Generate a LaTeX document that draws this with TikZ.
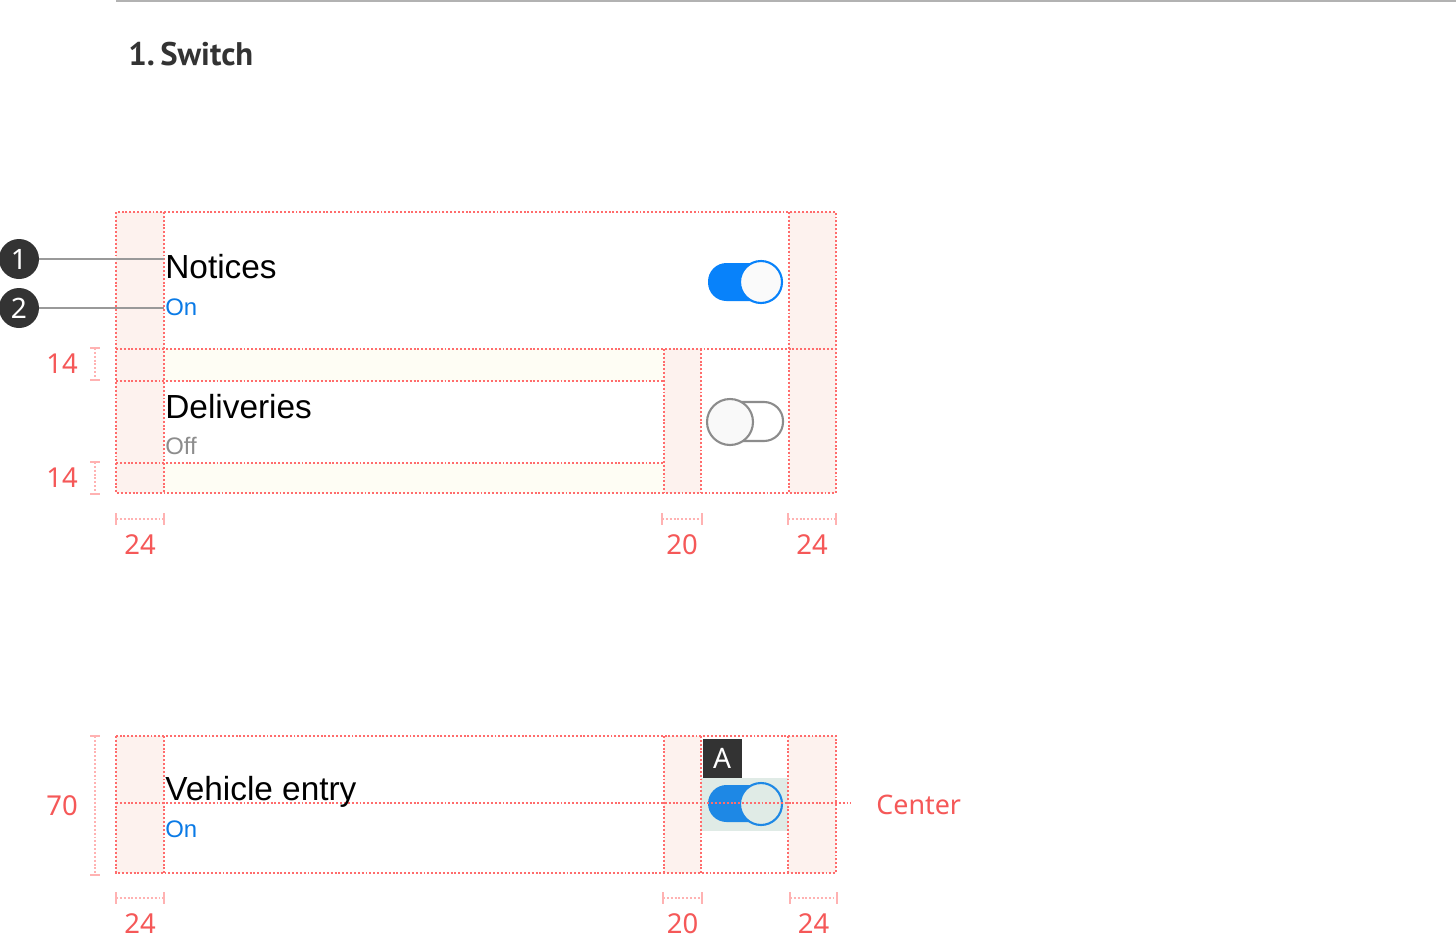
\documentclass[tikz,border=0pt]{standalone}
\usepackage{fontspec}
\setmainfont{Noto Sans}
\newfontfamily\uifont{Liberation Sans}
\newfontfamily\headfont{PT Sans}
\usepackage{tikz}
\usetikzlibrary{
	calc,
	positioning
}
\definecolor{GuideRed}{RGB}{255,108,108}
\definecolor{MarkRed}{RGB}{245,88,88}
\definecolor{TickRed}{RGB}{255,178,178}
\definecolor{PadPink}{RGB}{253,242,238}
\definecolor{PadCream}{RGB}{254,253,244}
\definecolor{OnBlue}{RGB}{10,122,230}
\definecolor{TrackBlue}{RGB}{8,130,250}
\definecolor{FocusBlue}{RGB}{30,136,229}
\definecolor{FocusGreen}{RGB}{224,235,230}
\definecolor{DarkGray}{RGB}{51,51,51}
\definecolor{OffGray}{RGB}{140,140,140}
\tikzset{
	guide/.style={GuideRed, line width=0.8pt, dash pattern=on 1.1pt off 1.1pt},
	dimbar/.style={TickRed, line width=0.8pt, dash pattern=on 1.1pt off 1.1pt},
	dimtick/.style={TickRed, line width=0.9pt},
	dimlabel/.style={MarkRed, inner sep=0, font=\fontsize{15.6}{18}\selectfont},
	itemtitle/.style={anchor=base west, inner sep=0, font=\uifont\fontsize{19}{22}\selectfont},
	itemstate/.style={anchor=base west, inner sep=0, font=\uifont\fontsize{13.6}{16}\selectfont},
	callout/.style={circle, fill=DarkGray, text=white, minimum size=0.8cm, inner sep=0, font=\fontsize{16}{18}\selectfont},
	leader/.style={draw=gray!80, line width=0.9pt}
}

\begin{document}
\begin{tikzpicture}[x=0.02cm, y=-0.02cm]
	\fill[white] (0,0) rectangle (1456,940);
	\useasboundingbox (0,0) rectangle (1456,940);
	\draw[gray!60, line width=1.2pt] (116,1) -- (1456,1);
	\node[anchor=base west, inner sep=0, text=DarkGray, font=\headfont\bfseries\fontsize{18.6}{22}\selectfont] (title) at (128,65) {1.\,Switch};

	% first list: paddings
	\fill[PadPink] (116,212) rectangle (164,493);
	\fill[PadPink] (789,212) rectangle (836,493);
	\fill[PadPink] (664,349) rectangle (701,493);
	\fill[PadCream] (164,349) rectangle (664,381);
	\fill[PadCream] (164,463) rectangle (664,493);
	\draw[guide] (116,212) rectangle (836,493);
	\draw[guide] (116,349) -- (836,349);
	\draw[guide] (116,381) -- (664,381);
	\draw[guide] (116,463) -- (664,463);
	\foreach \x in {164,789} \draw[guide] (\x,212) -- (\x,493);
	\foreach \x in {664,701} \draw[guide] (\x,349) -- (\x,493);

	\node[itemtitle] (notices) at (165,278) {Notices};
	\node[itemstate, text=OnBlue] (noticesOn) at (165,315) {On};
	\node[itemtitle] (deliveries) at (165,418) {Deliveries};
	\node[itemstate, text=OffGray] (deliveriesOff) at (165,454) {Off};

	% switches
	\fill[TrackBlue, rounded corners=0.37cm] (708,263) rectangle (772,301);
	\filldraw[fill=gray!4, draw=TrackBlue, line width=1.2pt] (761,282) circle (0.42cm);
	\filldraw[fill=white, draw=OffGray, line width=1.2pt, rounded corners=0.38cm] (712,402) rectangle (783,441);
	\filldraw[fill=gray!5, draw=OffGray, line width=1.2pt] (730,422) circle (0.46cm);

	% callouts
	\node[callout] (c1) at (19,259) {1};
	\node[callout] (c2) at (19,308) {2};
	\coordinate (p1) at (164,259);
	\coordinate (p2) at (164,308);
	\draw[leader] (c1) -- (p1);
	\draw[leader] (c2) -- (p2);

	% dimensions
	\foreach \ya/\yb/\lab in {348/380/14, 462/494/14, 736/875/70} {
		\draw[dimbar] (95,\ya) -- (95,\yb);
		\draw[dimtick] (90,\ya) -- (100,\ya) (90,\yb) -- (100,\yb);
		\node[dimlabel] at (62,{(\ya+\yb)/2}) {\lab};
	}
	\foreach \xa/\xb/\lab in {116/164/24, 662/702/20, 788/836/24} {
		\draw[dimbar] (\xa,519) -- (\xb,519);
		\draw[dimtick] (\xa,513) -- (\xa,525) (\xb,513) -- (\xb,525);
		\node[dimlabel] at ({(\xa+\xb)/2},545) {\lab};
	}
	\foreach \xa/\xb/\lab in {116/164/24, 663/702/20, 790/837/24} {
		\draw[dimbar] (\xa,898) -- (\xb,898);
		\draw[dimtick] (\xa,892) -- (\xa,904) (\xb,892) -- (\xb,904);
		\node[dimlabel] at ({(\xa+\xb)/2},924) {\lab};
	}

	% second list
	\fill[PadPink] (116,736) rectangle (164,873);
	\fill[PadPink] (664,736) rectangle (701,873);
	\fill[PadPink] (788,736) rectangle (836,873);
	\fill[FocusGreen] (701,778) rectangle (788,831);
	\node[fill=DarkGray, text=white, minimum size=0.78cm, inner sep=0, font=\fontsize{16}{18}\selectfont] (badge) at (722,758) {A};
	\fill[FocusBlue, rounded corners=0.37cm] (708,785) rectangle (772,822);
	\filldraw[fill=FocusGreen, draw=FocusBlue, line width=1.2pt] (761,804) circle (0.42cm);

	\draw[guide] (116,736) rectangle (836,873);
	\foreach \x in {164,664,701,788} \draw[guide] (\x,736) -- (\x,873);
	\coordinate (midL) at (116,803);
	\node[dimlabel, anchor=west, font=\fontsize{15.3}{18}\selectfont] (center) at (876,805) {Center};
	\coordinate (midR) at (851,803);
	\draw[guide] (midL) -- (midR);

	\node[itemtitle] (vehicle) at (165,800) {Vehicle entry};
	\node[itemstate, text=OnBlue] (vehicleOn) at (165,837) {On};
\end{tikzpicture}
\end{document}
